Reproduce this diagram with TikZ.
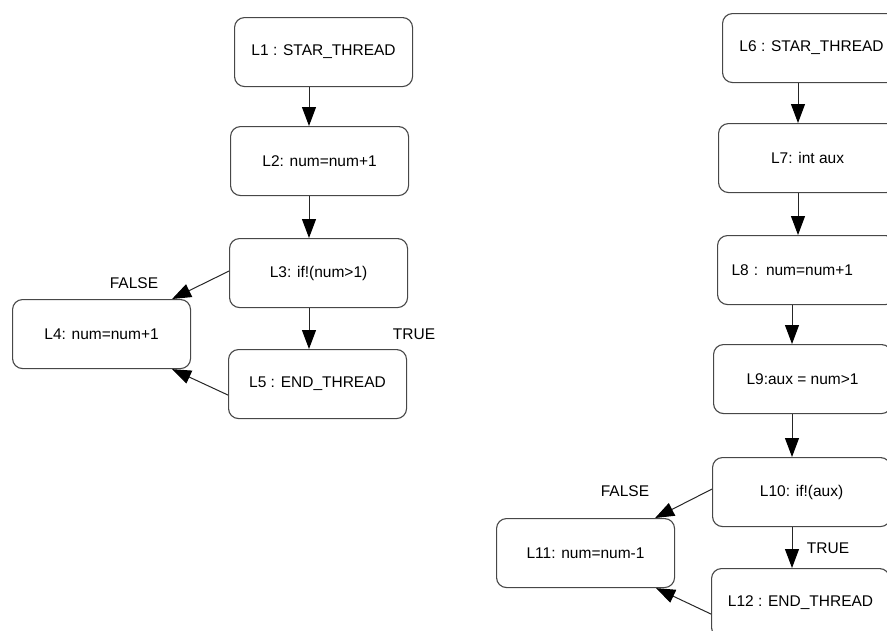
\documentclass[tikz,border=0pt]{standalone}
\usepackage{fontspec}
\setmainfont{Liberation Sans}
\usetikzlibrary{arrows.meta,calc}
\begin{document}
\begin{tikzpicture}[x=1pt,y=-1pt,
  box/.style={draw=black!72, line width=1.1pt, rounded corners=10pt,
    minimum width=178pt, minimum height=69pt, inner sep=0pt,
    font=\fontsize{15.5}{18}\selectfont, text=black, anchor=north west},
  flow/.style={draw=black!85, line width=1pt, -{Triangle[length=19pt,width=14pt,color=black]}},
  lbl/.style={font=\fontsize{15.5}{18}\selectfont, text=black, inner sep=0pt}]
\useasboundingbox (0,0) rectangle (887,630);
\clip (0,0) rectangle (887,630);
% left diagram
\node[box] (L1) at (234,17) {L1 : STAR\_THREAD};
\node[box] (L2) at (230,126) {L2: num=num+1};
\node[box] (L3) at (229,238) {L3: if!(num>1)};
\node[box] (L4) at (12,299) {L4: num=num+1};
\node[box] (L5) at (228,349) {L5 : END\_THREAD};
\coordinate (cA) at (309,0);
\draw[flow] (L1.south -| cA) -- (L2.north -| cA);
\draw[flow] (L2.south -| cA) -- (L3.north -| cA);
\draw[flow] (L3.south -| cA) -- (L5.north -| cA);
\draw[flow] ([yshift=2pt]L3.west) -- ([xshift=-19pt]L4.north east);
\draw[flow] ([yshift=-11pt]L5.west) -- ([xshift=-19pt]L4.south east);
\node[lbl] (F1) at (134,283) {FALSE};
\node[lbl] (T1) at (414,334) {TRUE};
% right diagram
\node[box] (L6) at (722,13) {L6 : STAR\_THREAD};
\node[box] (L7) at (718,123) {L7: int aux};
\node[box, text width=150pt, align=left, inner xsep=14pt] (L8) at (717,235) {L8 : num=num+1};
\node[box] (L9) at (713,344) {L9:aux = num>1};
\node[box] (L10) at (712,457) {L10: if!(aux)};
\node[box] (L11) at (496,518) {L11: num=num-1};
\node[box] (L12) at (711,568) {L12 : END\_THREAD};
\coordinate (cB) at (798,0);
\coordinate (cC) at (792,0);
\draw[flow] (L6.south -| cB) -- (L7.north -| cB);
\draw[flow] (L7.south -| cB) -- (L8.north -| cB);
\draw[flow] (L8.south -| cC) -- (L9.north -| cC);
\draw[flow] (L9.south -| cC) -- (L10.north -| cC);
\draw[flow] (L10.south -| cC) -- (L12.north -| cC);
\draw[flow] ([yshift=3pt]L10.west) -- ([xshift=-20pt]L11.north east);
\draw[flow] ([yshift=-11pt]L12.west) -- ([xshift=-19pt]L11.south east);
\node[lbl] (F2) at (625,491) {FALSE};
\node[lbl] (T2) at (828,548) {TRUE};
\end{tikzpicture}
\end{document}
